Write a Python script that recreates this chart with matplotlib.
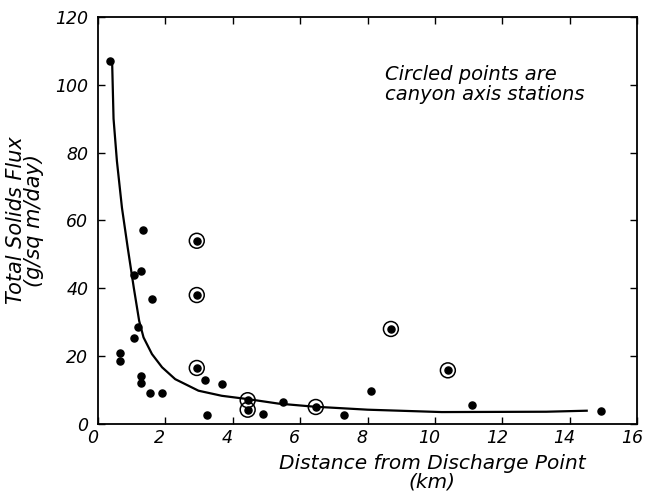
import matplotlib
matplotlib.use("Agg")
import numpy as np
from matplotlib import pyplot as plt
from matplotlib.transforms import ScaledTranslation

# plain stations (km, g/sq m/day)
dist = [0.35, 0.66, 0.66, 1.06, 1.06, 1.2, 1.26, 1.26, 1.28, 1.32, 1.53, 1.6, 1.9,
        3.18, 3.23, 3.67, 4.9, 5.48, 7.3, 8.11, 11.1, 14.92]
flux = [107, 21.0, 18.5, 43.8, 25.3, 28.5, 14.0, 12.2, 45.2, 57.3, 9.0, 36.8, 9.0,
        13.0, 2.6, 11.8, 2.9, 6.5, 2.6, 9.8, 5.5, 3.9]

# circled points = canyon axis stations
axis_dist = [2.93, 2.93, 2.93, 4.44, 4.44, 6.46, 8.69, 10.38]
axis_flux = [54.0, 38.0, 16.5, 7.0, 4.2, 5.0, 28.0, 15.8]

# hand-drawn curve
curve_x = [0.42, 0.46, 0.56, 0.71, 0.88, 1.06, 1.22, 1.35, 1.6, 1.9, 2.29, 2.98,
           3.67, 4.46, 5.35, 6.4, 8.0, 10.2, 13.3, 14.5]
curve_y = [106, 90, 77.5, 63.7, 52, 40.2, 30.4, 25.5, 20.6, 16.7, 13.2, 9.8,
           8.3, 7.3, 6.0, 5.1, 4.2, 3.5, 3.6, 3.9]

xticks = [0, 2, 4, 6, 8, 10, 12, 14, 16]
yticks = [0, 20, 40, 60, 80, 100, 120]

plt.rcParams['font.family'] = ['DejaVu Sans']
fig = plt.figure(figsize=(6.45, 4.97), dpi=100)
ax = fig.add_axes([0.152, 0.147, 0.836, 0.819])

ax.plot(curve_x, curve_y, color='black', lw=1.6)
ax.scatter(dist, flux, s=26, color='black', zorder=3)
ax.scatter(axis_dist, axis_flux, s=26, color='black', zorder=3)
ax.scatter(axis_dist, axis_flux, s=115, facecolors='none', edgecolors='black',
           linewidths=1.1, zorder=3)

ax.set_xlim(0, 16)
ax.set_ylim(0, 120)
ax.set_xticks(xticks)
ax.set_yticks(yticks)
ax.tick_params(direction='in', top=True, right=True, length=5, width=1,
               labelsize=12.5)
ax.tick_params(axis='x', pad=4)
ax.tick_params(axis='y', pad=7)
shift = ScaledTranslation(-4 / 72, 0, fig.dpi_scale_trans)
for lab in ax.get_xticklabels():
    lab.set_style('italic')
    lab.set_transform(lab.get_transform() + shift)
for lab in ax.get_yticklabels():
    lab.set_style('italic')
for sp in ax.spines.values():
    sp.set_linewidth(1.3)

ax.set_xlabel('Distance from Discharge Point\n(km)', fontsize=14.5, style='italic',
              linespacing=0.95)
ax.xaxis.set_label_coords(0.62, -0.075, transform=ax.transAxes)
ax.xaxis.label.set_va('top')
ax.set_ylabel('Total Solids Flux\n(g/sq m/day)', fontsize=15, style='italic',
              linespacing=0.9, labelpad=8)
ax.text(8.5, 100, 'Circled points are\ncanyon axis stations', fontsize=14,
        style='italic', linespacing=1.1, va='center')

plt.savefig('out.png', dpi=100)
